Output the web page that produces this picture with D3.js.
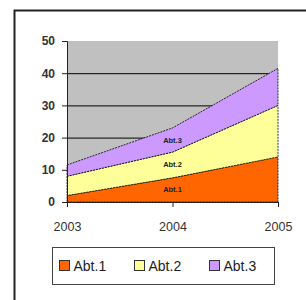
<!DOCTYPE html>
<html>
<head>
<meta charset="utf-8">
<script src="https://cdn.jsdelivr.net/npm/d3@7"></script>
<style>
  body { margin: 0; background: #fff; }
  svg { display: block; font-family: Arial, "Liberation Sans", sans-serif; }
</style>
</head>
<body>
<div id="chart"></div>
<script>
const years = [`2003`, `2004`, `2005`];
const seriesNames = [`Abt.1`, `Abt.2`, `Abt.3`];
const abt1 = [2, 7.5, 14];
const abt2 = [6, 8, 16];
const abt3 = [3.5, 7.5, 11.5];
const yTicks = [0, 10, 20, 30, 40, 50];
const colors = [`#ff6600`, `#ffff99`, `#cc99ff`];

const width = 306, height = 300;
const margin = {top: 41, left: 67, right: 28, bottom: 98};
const innerW = width - margin.left - margin.right;
const innerH = height - margin.top - margin.bottom;

const table = years.map((y, i) => ({year: y, 'Abt.1': abt1[i], 'Abt.2': abt2[i], 'Abt.3': abt3[i]}));
const stacked = d3.stack().keys(seriesNames)(table);

const svg = d3.select(`#chart`).append(`svg`)
  .attr(`width`, width)
  .attr(`height`, height);

// frame
svg.append(`path`)
  .attr(`d`, `M14.5,${height} V10.5 H${width}`)
  .attr(`fill`, `none`)
  .attr(`stroke`, `#222`)
  .attr(`stroke-width`, 2);

const g = svg.append(`g`).attr(`transform`, `translate(${margin.left},${margin.top})`);

const x = d3.scalePoint().domain(years).range([0, innerW]);
const y = d3.scaleLinear().domain([0, 50]).range([innerH, 0]);

g.append(`rect`)
  .attr(`width`, innerW)
  .attr(`height`, innerH)
  .attr(`fill`, `#c0c0c0`);

// gridlines
g.append(`g`)
  .call(d3.axisLeft(y).tickValues(yTicks.slice(1, -1)).tickSize(-innerW).tickFormat(``))
  .call(s => s.select(`.domain`).remove())
  .selectAll(`line`).attr(`stroke`, `#000`);

const area = d3.area()
  .x(d => x(d.data.year))
  .y0(d => y(d[0]))
  .y1(d => y(d[1]));

g.selectAll(`.band`)
  .data(stacked)
  .enter().append(`path`)
  .attr(`class`, `band`)
  .attr(`d`, area)
  .attr(`fill`, (d, i) => colors[i])
  .attr(`stroke`, `#000`)
  .attr(`stroke-width`, 0.8)
  .attr(`stroke-dasharray`, `2,1`);

// data labels at 2004
g.selectAll(`.lbl`)
  .data(stacked)
  .enter().append(`text`)
  .attr(`x`, x(`2004`))
  .attr(`y`, d => y((d[1][0] + d[1][1]) / 2) + 2.5)
  .attr(`text-anchor`, `middle`)
  .attr(`font-size`, 7.5)
  .attr(`font-weight`, `bold`)
  .attr(`fill`, `#222`)
  .text(d => d.key);

// y axis
const yAxis = g.append(`g`)
  .call(d3.axisLeft(y).tickValues(yTicks).tickSize(5).tickPadding(7));
yAxis.selectAll(`text`).attr(`font-size`, 12).attr(`fill`, `#333`).attr(`font-weight`, `bold`);
yAxis.selectAll(`line, path`).attr(`stroke`, `#222`);

// x axis
const xAxis = g.append(`g`)
  .attr(`transform`, `translate(0,${innerH})`)
  .call(d3.axisBottom(x).tickSize(5).tickPadding(15).tickSizeOuter(0));
xAxis.selectAll(`text`).attr(`font-size`, 12.5).attr(`fill`, `#333`);
xAxis.selectAll(`line, path`).attr(`stroke`, `#222`);

// legend
const legend = svg.append(`g`).attr(`transform`, `translate(52.5,247.5)`);
legend.append(`rect`)
  .attr(`width`, 222)
  .attr(`height`, 37)
  .attr(`fill`, `#fff`)
  .attr(`stroke`, `#444`);

const legendX = [7, 82, 157];
seriesNames.forEach((name, i) => {
  const item = legend.append(`g`).attr(`transform`, `translate(${legendX[i]},13)`);
  item.append(`rect`)
    .attr(`width`, 10)
    .attr(`height`, 10)
    .attr(`fill`, colors[i])
    .attr(`stroke`, `#333`);
  item.append(`text`)
    .attr(`x`, 14)
    .attr(`y`, 10.5)
    .attr(`font-size`, 14)
    .attr(`fill`, `#222`)
    .text(name);
});
</script>
</body>
</html>
